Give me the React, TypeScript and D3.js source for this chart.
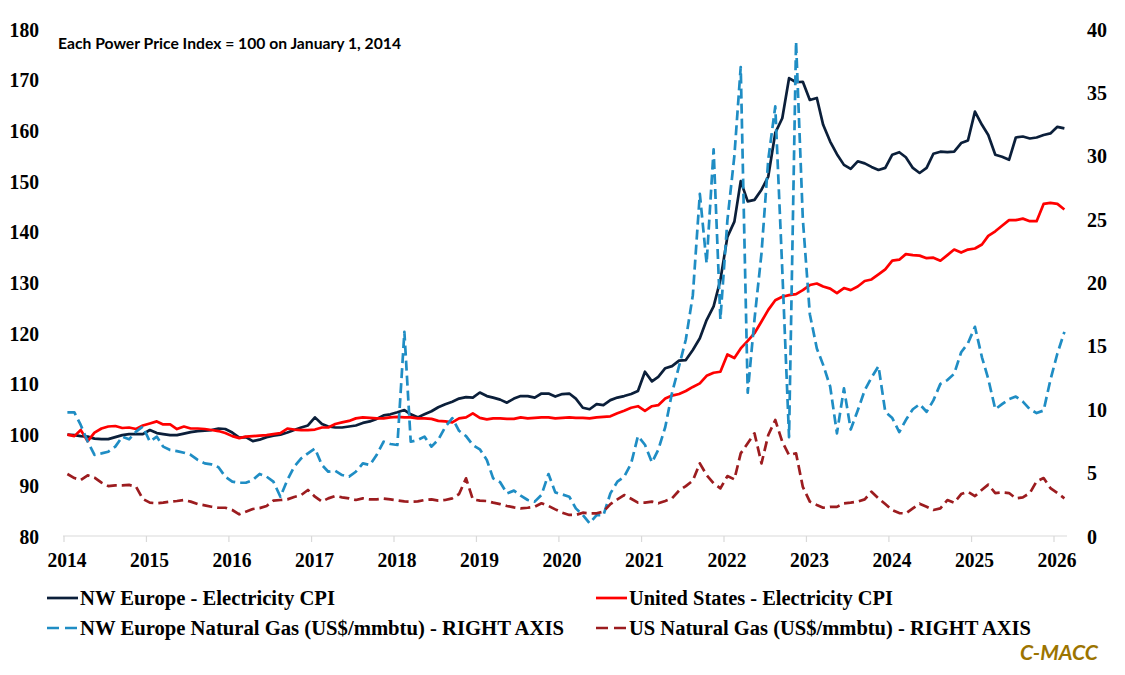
import React from 'react';
import * as d3 from 'd3';

const years = [2014, 2015, 2016, 2017, 2018, 2019, 2020, 2021, 2022, 2023, 2024, 2025, 2026];
const leftTicks = [80, 90, 100, 110, 120, 130, 140, 150, 160, 170, 180];
const rightTicks = [0, 5, 10, 15, 20, 25, 30, 35, 40];

// Monthly values, Jan 2014 .. Feb 2026
const nwEuropeCpi = [
  100, 99.9, 99.7, 99.6, 99.2, 99.1, 99.1, 99.5, 99.9, 100.1, 100.1, 100.1,
  100.9, 100.3, 100.1, 99.9, 99.9, 100.2, 100.5, 100.7, 100.8, 100.9, 101.2, 101.1,
  100.4, 99.4, 99.5, 98.7, 99.0, 99.5, 99.8, 100.0, 100.4, 100.9, 101.4, 101.8,
  103.4, 102.1, 101.6, 101.4, 101.4, 101.6, 101.8, 102.3, 102.6, 103.1, 103.8, 104.0,
  104.4, 104.85, 104.0, 103.4, 104.0, 104.6, 105.4, 106.0, 106.5, 107.1, 107.4, 107.3,
  108.3, 107.6, 107.3, 106.9, 106.3, 107.1, 107.6, 107.6, 107.3, 108.1, 108.1, 107.5,
  108.0, 108.1, 107.1, 105.3, 105.0, 106.0, 105.8, 106.8, 107.3, 107.6, 108.0, 108.6,
  112.4, 110.5, 111.4, 113.1, 113.5, 114.6, 114.7, 116.7, 119.0, 122.6, 125.3, 130.5,
  139.0, 142.0, 150.0, 146.0, 146.3, 148.3, 150.9, 159.5, 162.4, 170.3, 169.5, 169.6,
  166.0, 166.4, 161.1, 157.8, 155.3, 153.2, 152.4, 153.9, 153.5, 152.8, 152.2, 152.6,
  155.2, 155.7, 154.7, 152.6, 151.6, 152.6, 155.4, 155.8, 155.7, 155.8, 157.5, 158.0,
  163.7, 161.1, 159.1, 155.2, 154.8, 154.2, 158.6, 158.8, 158.4, 158.6, 159.1, 159.4,
  160.7, 160.4,
];

const usCpi = [
  100, 99.7, 100.9, 98.7, 100.4, 101.2, 101.6, 101.7, 101.3, 101.4, 101.1, 101.8,
  102.2, 102.6, 102.0, 102.0, 101.1, 101.6, 101.2, 101.2, 101.1, 100.9, 100.7, 100.3,
  99.7, 99.3, 99.6, 99.7, 99.8, 99.9, 100.1, 100.3, 101.2, 101.0, 100.9, 100.9,
  101.0, 101.4, 101.4, 102.1, 102.4, 102.7, 103.2, 103.4, 103.3, 103.2, 103.2, 103.4,
  103.5, 103.4, 103.4, 103.2, 103.2, 103.1, 102.7, 102.6, 102.4, 103.2, 103.4, 104.2,
  103.3, 103.0, 103.2, 103.2, 103.1, 103.1, 103.4, 103.2, 103.3, 103.4, 103.4, 103.2,
  103.3, 103.4, 103.3, 103.3, 103.2, 103.4, 103.5, 103.6, 104.2, 104.7, 105.3, 105.6,
  104.7, 105.6, 105.8, 107.1, 107.7, 108.0, 108.6, 109.4, 110.1, 111.6, 112.2, 112.4,
  115.8, 115.1, 117.0, 118.5, 120.0, 122.3, 124.6, 126.5, 127.2, 127.5, 127.7, 128.5,
  129.5, 129.8, 129.2, 128.8, 127.9, 128.9, 128.5, 129.2, 130.3, 130.6, 131.6, 132.6,
  134.3, 134.5, 135.6, 135.4, 135.3, 134.8, 134.9, 134.3, 135.4, 136.5, 135.9, 136.5,
  136.7, 137.5, 139.2, 140.1, 141.2, 142.3, 142.3, 142.6, 142.1, 142.1, 145.5, 145.7,
  145.5, 144.4,
];

const nwEuropeGas = [
  9.75, 9.75, 8.76, 7.45, 6.4, 6.52, 6.65, 7.05, 7.84, 7.63, 8.24, 8.63,
  7.45, 7.84, 7.05, 6.78, 6.7, 6.57, 6.4, 6.0, 5.73, 5.65, 5.42, 4.68,
  4.29, 4.2, 4.2, 4.42, 4.9, 4.68, 4.29, 3.1, 4.42, 5.47, 6.12, 6.52,
  6.9, 5.6, 5.07, 5.15, 4.81, 4.68, 5.07, 5.73, 5.6, 6.39, 7.44, 7.26,
  7.18, 16.1, 7.44, 7.57, 7.84, 7.05, 7.6, 8.6, 9.3, 8.3, 7.88, 7.18,
  6.84, 6.0, 4.55, 4.24, 3.36, 3.58, 3.18, 2.84, 2.71, 3.24, 4.89, 3.44,
  3.28, 3.1, 2.18, 1.65, 1.0, 1.65, 1.63, 3.36, 4.29, 4.68, 5.73, 7.88,
  7.2, 5.8, 6.8, 8.6, 11.3, 13.4, 15.5, 19.0, 27.0, 21.5, 30.5, 17.1,
  24.9, 30.0, 37.0, 11.3, 17.1, 22.3, 29.7, 33.9, 21.0, 7.8, 39.0, 25.0,
  17.5, 14.8, 13.5, 11.8, 8.1, 11.65, 8.4, 9.9, 11.5, 12.5, 13.4, 9.8,
  9.3, 8.2, 9.15, 10.0, 10.4, 9.8, 10.7, 12.0, 12.3, 12.8, 14.5, 15.2,
  16.5, 14.1, 12.4, 10.0, 10.4, 10.8, 11.0, 10.6, 10.0, 9.7, 9.9, 12.3,
  14.4, 16.1,
];

const usGas = [
  4.89, 4.57, 4.42, 4.79, 4.6, 4.21, 3.94, 4.0, 4.0, 4.03, 3.89, 2.92,
  2.63, 2.58, 2.63, 2.71, 2.76, 2.84, 2.71, 2.52, 2.42, 2.31, 2.23, 2.23,
  2.05, 1.71, 1.92, 2.13, 2.2, 2.37, 2.79, 2.84, 2.89, 3.08, 3.23, 3.63,
  3.1, 2.71, 2.97, 3.16, 3.05, 2.97, 2.84, 2.97, 2.89, 2.89, 2.95, 2.89,
  2.81, 2.73, 2.71, 2.73, 2.84, 2.89, 2.79, 2.84, 2.97, 3.31, 4.55, 2.89,
  2.79, 2.76, 2.63, 2.52, 2.37, 2.26, 2.18, 2.23, 2.31, 2.58, 2.37, 2.1,
  1.84, 1.66, 1.66, 1.84, 1.79, 1.79, 1.92, 2.52, 2.89, 3.23, 2.94, 2.63,
  2.63, 2.71, 2.58, 2.76, 2.97, 3.58, 3.94, 4.37, 5.73, 4.81, 4.15, 3.76,
  4.73, 4.47, 6.52, 7.31, 8.1, 5.73, 7.97, 9.15, 7.44, 6.39, 6.52, 3.87,
  2.71, 2.45, 2.23, 2.3, 2.3, 2.58, 2.63, 2.71, 2.89, 3.49, 2.97, 2.52,
  2.05, 1.81, 1.78, 2.18, 2.55, 2.31, 2.05, 2.18, 2.84, 2.63, 3.31, 3.49,
  3.15, 3.65, 4.05, 3.39, 3.44, 3.39, 2.97, 3.05, 3.39, 4.31, 4.57, 3.78,
  3.39, 2.97,
];

const title = 'Each Power Price Index = 100 on January 1, 2014';
const legendItems = [
  { label: 'NW Europe - Electricity CPI', color: '#0b1f3a', dash: '', col: 0, row: 0, w: 255 },
  { label: 'United States - Electricity CPI', color: '#ff0000', dash: '', col: 1, row: 0, w: 264 },
  { label: 'NW Europe Natural Gas (US$/mmbtu) - RIGHT AXIS', color: '#1f8dc4', dash: '12,6', col: 0, row: 1, w: 484 },
  { label: 'US Natural Gas (US$/mmbtu) - RIGHT AXIS', color: '#9c1c1f', dash: '12,6', col: 1, row: 1, w: 402 },
];

const SERIF = "'Liberation Serif', 'Times New Roman', serif";
const SANS = "Lato, 'Open Sans', 'Noto Sans', sans-serif";

export default function App() {
  const W = 1125;
  const H = 675;
  const x = d3.scaleTime().domain([new Date(2014, 0, 1), new Date(2026, 0, 1)]).range([64, 1054]);
  const yL = d3.scaleLinear().domain([80, 180]).range([536, 29]);
  const yR = d3.scaleLinear().domain([0, 40]).range([536, 29]);
  const dates = d3.range(nwEuropeCpi.length).map((i) => new Date(2014, i, 16));

  const lineL = d3.line<number>().x((_, i) => x(dates[i])).y((d) => yL(d));
  const lineR = d3.line<number>().x((_, i) => x(dates[i])).y((d) => yR(d));

  const series = [
    { d: lineL(nwEuropeCpi), color: '#0b1f3a', dash: '' },
    { d: lineL(usCpi), color: '#ff0000', dash: '' },
    { d: lineR(nwEuropeGas), color: '#1f8dc4', dash: '10,5' },
    { d: lineR(usGas), color: '#9c1c1f', dash: '10,5' },
  ];

  const axisY = 536;
  const legendCols = [47, 596];
  const legendRows = [598, 628];

  return (
    <svg width={W} height={H} style={{ position: 'absolute', left: 0, top: 0, background: '#fff' }}>
      <rect x={0} y={0} width={W} height={H} fill="#fff" />
      {/* x axis */}
      <line x1={63} x2={1067} y1={axisY} y2={axisY} stroke="#d9d9d9" strokeWidth={1.2} />
      {years.map((yr) => {
        const xx = x(new Date(yr, 0, 1));
        return (
          <g key={yr}>
            <line x1={xx} x2={xx} y1={axisY} y2={axisY + 6} stroke="#d9d9d9" strokeWidth={1.2} />
            <text x={xx + 3} y={567} textAnchor="middle" fontFamily={SERIF} fontWeight={700} fontSize={22}
              textLength={39} lengthAdjust="spacingAndGlyphs" fill="#000">{yr}</text>
          </g>
        );
      })}
      {/* left axis labels */}
      {leftTicks.map((t) => (
        <text key={t} x={39} y={yL(t) + 7.5} textAnchor="end" fontFamily={SERIF} fontWeight={700} fontSize={22}
          textLength={String(t).length * 9.8} lengthAdjust="spacingAndGlyphs" fill="#000">{t}</text>
      ))}
      {/* right axis labels */}
      {rightTicks.map((t) => (
        <text key={t} x={1087} y={yR(t) + 7.5} textAnchor="start" fontFamily={SERIF} fontWeight={700} fontSize={22}
          textLength={String(t).length * 10} lengthAdjust="spacingAndGlyphs" fill="#000">{t}</text>
      ))}
      {/* title */}
      <text x={58} y={49} fontFamily={SANS} fontWeight={700} fontSize={16} textLength={343}
        lengthAdjust="spacingAndGlyphs" fill="#000">{title}</text>
      {/* series */}
      {series.map((s, i) => (
        <path key={i} d={s.d || ''} fill="none" stroke={s.color} strokeWidth={2.7}
          strokeDasharray={s.dash || undefined} strokeLinejoin="round" />
      ))}
      {/* legend */}
      {legendItems.map((it) => {
        const lx = legendCols[it.col];
        const ly = legendRows[it.row];
        return (
          <g key={it.label}>
            <line x1={lx} x2={lx + 31} y1={ly} y2={ly} stroke={it.color} strokeWidth={2.7}
              strokeDasharray={it.dash || undefined} />
            <text x={lx + 33} y={ly + 7} fontFamily={SERIF} fontWeight={700} fontSize={20}
              textLength={it.w} lengthAdjust="spacingAndGlyphs" fill="#000">{it.label}</text>
          </g>
        );
      })}
      <text x={1020} y={660} fontFamily={SANS} fontWeight={700} fontStyle="italic" fontSize={20}
        textLength={78} lengthAdjust="spacingAndGlyphs" fill="#9c7400">C-MACC</text>
    </svg>
  );
}
